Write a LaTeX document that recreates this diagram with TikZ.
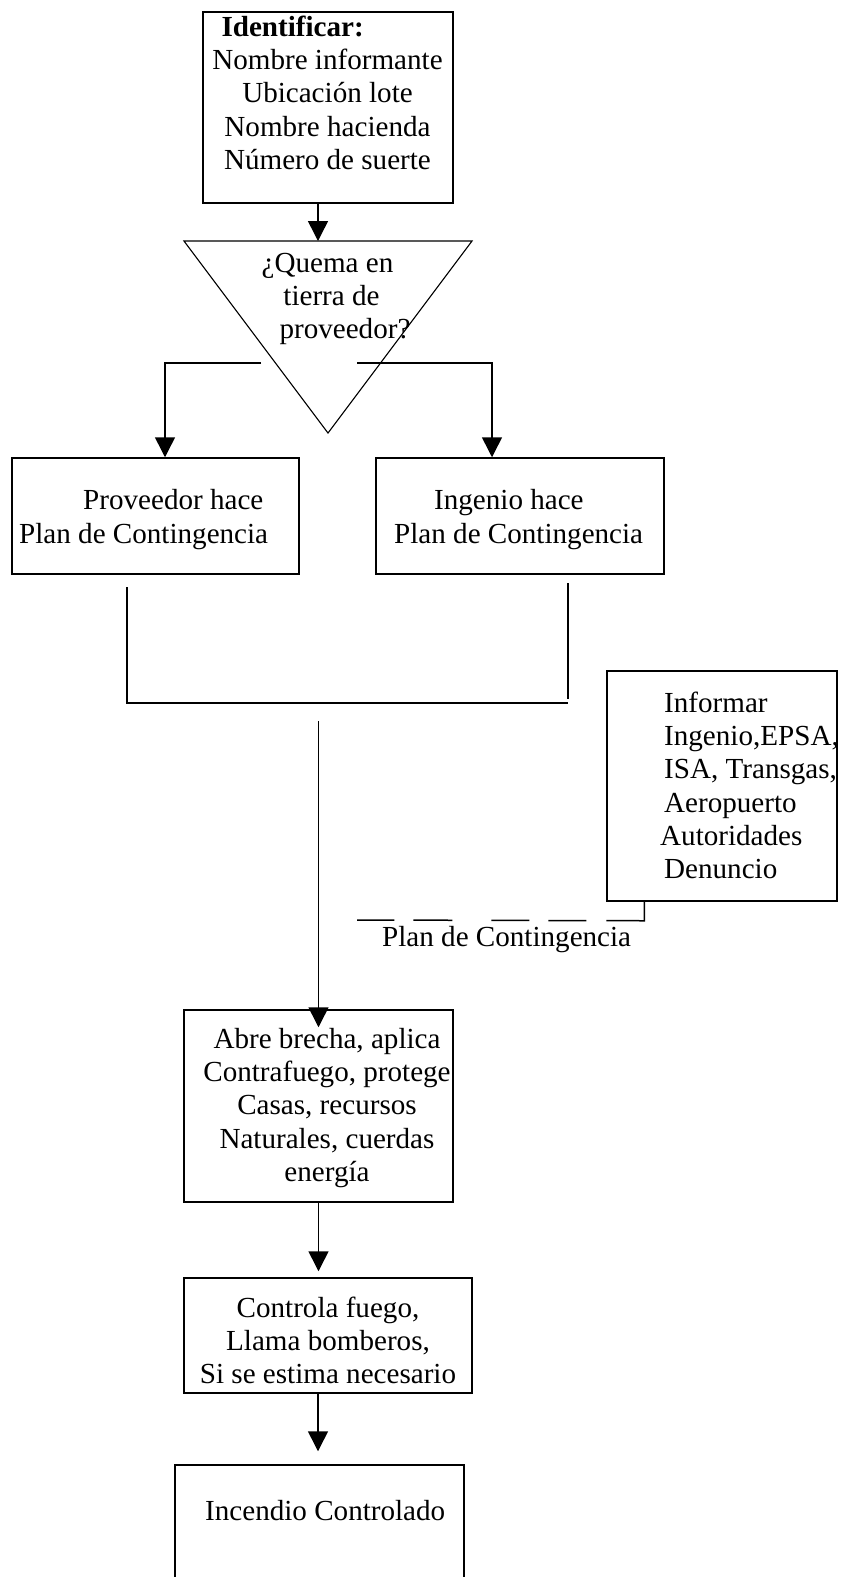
\documentclass[tikz,border=0pt]{standalone}
\usepackage{fontspec}
\setmainfont{Liberation Serif}
\usetikzlibrary{arrows.meta}

\begin{document}
\begin{tikzpicture}[x=1pt,y=-1pt,
  caja/.style={draw,line width=1.5pt,inner sep=0pt},
  texto/.style={inner sep=0pt,font=\fontsize{29.1}{33.3}\selectfont},
  linea/.style={line width=1.5pt},
  flecha/.style={line width=1.5pt,-{Triangle[length=20pt,width=20pt]}}]
\useasboundingbox (0,0) rectangle (843,1577);
\node[caja,minimum width=250pt,minimum height=191pt] (ident) at (328,107.5) {};
\node[texto,align=center,anchor=north] (identtxt) at (327.5,12.7) {\strut\makebox[212pt][l]{\textbf{Identificar:}}\\Nombre informante\\Ubicación lote\\Nombre hacienda\\Número de suerte};
\coordinate (q1) at (184,241);
\coordinate (q2) at (472,241);
\coordinate (q3) at (328,433);
\draw[line width=1.1pt] (q1) -- (q2) -- (q3) -- cycle;
\node[texto,align=center,anchor=north] (quematxt) at (327.5,248.7) {\strut¿Quema en\\\hspace*{8pt}tierra de\\\hspace*{35pt}proveedor?};
\coordinate (entrada) at (318,241);
\draw[flecha] (ident.south -| entrada) -- (entrada);
\node[caja,minimum width=287pt,minimum height=116pt] (prov) at (155.5,516) {};
\node[texto,align=left,anchor=north west] (provtxt) at (19,486.2) {\strut\hspace*{64pt}Proveedor hace\\Plan de Contingencia};
\node[caja,minimum width=288pt,minimum height=116pt] (ing) at (520,516) {};
\node[texto,align=left,anchor=north west] (ingtxt) at (394,486.2) {\strut\hspace*{40pt}Ingenio hace\\Plan de Contingencia};
\coordinate (ramaizq) at (261,363);
\coordinate (ramader) at (357,363);
\draw[flecha] (ramaizq) -| ([xshift=9.5pt]prov.north);
\draw[flecha] (ramader) -| ([xshift=-28pt]ing.north);
\coordinate (jizq) at (127,587);
\coordinate (jder) at (568,583);
\draw[linea] (jizq) -- (127,703) -- (568,703);
\draw[linea] (jder) -- (568,699);
\node[caja,minimum width=230pt,minimum height=230pt] (inform) at (722,786) {};
\node[texto,align=left,anchor=north west] (informtxt) at (660,688.7) {\strut\hspace*{4pt}Informar\\\hspace*{4pt}Ingenio,EPSA,\\\hspace*{4pt}ISA, Transgas,\\\hspace*{4pt}Aeropuerto\\Autoridades\\\hspace*{4pt}Denuncio};
\coordinate (plan) at (357,920);
\draw[linea,dash pattern=on 57pt off 20pt on 38pt off 19pt on 38pt off 39pt on 39pt off 19pt on 38pt off 100pt] ([xshift=38pt]inform.south west) -- ++(0,19) -- (plan);
\node[texto,anchor=base west] (plantxt) at (382,946) {Plan de Contingencia};
\node[caja,minimum width=269pt,minimum height=192pt] (abre) at (318.5,1106) {};
\node[texto,align=center,anchor=north] (abretxt) at (327,1024.7) {\strut Abre brecha, aplica\\Contrafuego, protege\\Casas, recursos\\Naturales, cuerdas\\energía};
\coordinate (union) at (318.5,721);
\draw[flecha] (union) -- ([yshift=-18pt]abre.north);
\node[caja,minimum width=288pt,minimum height=115pt] (controla) at (328,1335.5) {};
\node[texto,align=center,anchor=north] (controlatxt) at (328,1293.7) {\strut Controla fuego,\\Llama bomberos,\\Si se estima necesario};
\draw[flecha] (abre.south) -- ([xshift=-9.5pt,yshift=6pt]controla.north);
\node[caja,minimum width=289pt,minimum height=115pt] (incendio) at (319.5,1522.5) {};
\node[texto,anchor=base west] (incendiotxt) at (205,1520) {Incendio Controlado};
\draw[flecha] ([xshift=-10pt]controla.south) -- ([xshift=-1.5pt,yshift=13pt]incendio.north);
\end{tikzpicture}
\end{document}
